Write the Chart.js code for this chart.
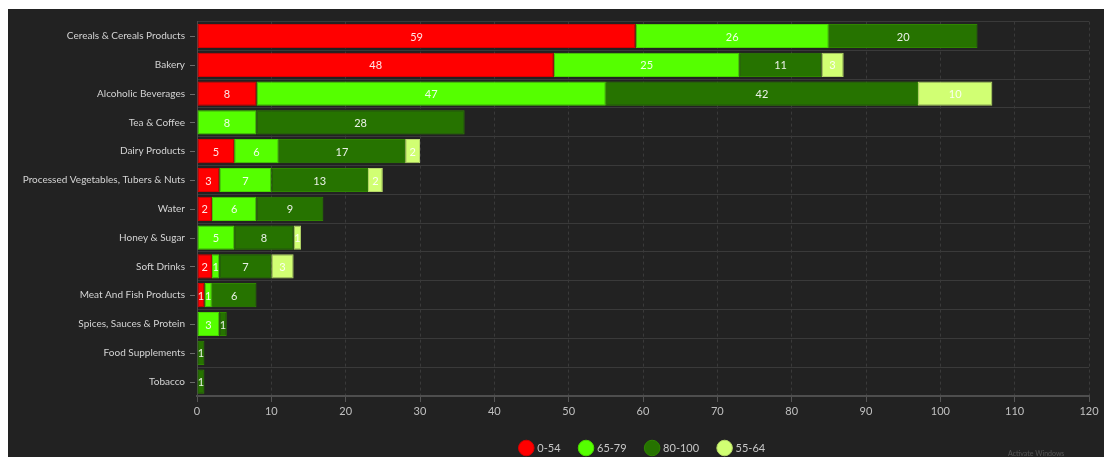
<!DOCTYPE html>
<html><head><meta charset="utf-8">
<script src="https://cdn.jsdelivr.net/npm/chart.js@4"></script>
<style>
html,body{margin:0;padding:0;background:#fff;overflow:hidden;}
#wrap{position:absolute;left:8px;top:9px;width:1096px;height:448px;background:#222222;}
canvas{display:block;}
</style></head>
<body><div id="wrap"><canvas id="c" width="1096" height="448"></canvas></div>
<script>
const categories = ["Cereals & Cereals Products","Bakery","Alcoholic Beverages","Tea & Coffee","Dairy Products","Processed Vegetables, Tubers & Nuts","Water","Honey & Sugar","Soft Drinks","Meat And Fish Products","Spices, Sauces & Protein","Food Supplements","Tobacco"];
const seriesNames = ["0-54","65-79","80-100","55-64"];
const s0_54   = [59,48, 8, 0, 5, 3,2,0,2,1,0,0,0];
const s65_79  = [26,25,47, 8, 6, 7,6,5,1,1,3,0,0];
const s80_100 = [20,11,42,28,17,13,9,8,7,6,1,1,1];
const s55_64  = [ 0, 3,10, 0, 2, 2,0,1,3,0,0,0,0];
const xTicks = [0,10,20,30,40,50,60,70,80,90,100,110,120];

const colors = ["#FF0000","#55FF00","#267300","#D1FF73"];
const borders = ["#d80000","#4ad800","#2f8500","#b5d868"];
const FONT = "Lato, 'Open Sans', sans-serif";

const valueLabels = {
  id:'valueLabels',
  afterDatasetsDraw(chart){
    const ctx = chart.ctx;
    ctx.save();
    ctx.font = '11px ' + FONT;
    ctx.fillStyle = 'rgba(255,255,255,0.9)';
    ctx.textAlign = 'center'; ctx.textBaseline = 'middle';
    chart.data.datasets.forEach((ds,i)=>{
      const meta = chart.getDatasetMeta(i);
      meta.data.forEach((el,j)=>{
        const v = ds.data[j];
        if (!v) return;
        const p = el.getProps(['x','base','y'], true);
        ctx.fillText(String(v), (p.x+p.base)/2, p.y+1);
      });
    });
    ctx.restore();
  }
};
const yTickMarks = {
  id:'yTickMarks',
  afterDraw(chart){
    const s = chart.scales.y, ctx = chart.ctx;
    ctx.save(); ctx.strokeStyle = '#6a6a6a'; ctx.lineWidth = 1;
    s.ticks.forEach((t,i)=>{
      const py = Math.round(s.getPixelForTick(i)) + 0.5;
      ctx.beginPath(); ctx.moveTo(s.right-7, py); ctx.lineTo(s.right-2, py); ctx.stroke();
    });
    ctx.font = '7px ' + FONT; ctx.fillStyle = 'rgba(255,255,255,0.22)';
    ctx.textBaseline = 'middle'; ctx.textAlign = 'left';
    ctx.fillText('Activate Windows', 1000, 445);
    ctx.restore();
  }
};

const series = [s0_54, s65_79, s80_100, s55_64];
new Chart(document.getElementById('c'), {
  type:'bar',
  data:{
    labels: categories,
    datasets: series.map((arr,i)=>({
      label: seriesNames[i],
      data: arr.map(v => v === 0 ? null : v),
      backgroundColor: colors[i],
      borderColor: borders[i],
      borderWidth: 1,
      borderSkipped: false,
      categoryPercentage: 0.84,
      barPercentage: 1.0
    }))
  },
  options:{
    indexAxis:'y',
    responsive:false,
    animation:false,
    layout:{padding:{top:12.6,right:15,left:0,bottom:-6.5}},
    plugins:{
      tooltip:{enabled:false},
      legend:{
        position:'bottom',
        fullSize:false,
        labels:{
          usePointStyle:true, pointStyle:'circle',
          color:'#c8c8c8', padding:20,
          font:{family:FONT, size:11}
        }
      }
    },
    scales:{
      x:{
        stacked:true, min:0, max:120,
        afterFit(s){ s.height = 26.5; },
        afterBuildTicks(s){ s.ticks = xTicks.map(v=>({value:v})); },
        grid:{color:'#3a3a3a', tickColor:'#555', tickLength:6, drawTicks:true},
        border:{color:'#4e4e4e', width:2, dash:[3,3], display:true},
        ticks:{color:'#c0c0c0', padding:3, font:{family:FONT, size:11}, maxRotation:0}
      },
      y:{
        stacked:true,
        afterFit(s){ s.width = 189; },
        grid:{color:'#3a3a3a', drawTicks:true, tickLength:9, tickColor:'rgba(0,0,0,0)', offset:true},
        border:{color:'#4a4a4a', width:1},
        ticks:{color:'#d4d4d4', padding:3, font:{family:FONT, size:10}, autoSkip:false}
      }
    }
  },
  plugins:[valueLabels, yTickMarks]
});
</script>
</body></html>
